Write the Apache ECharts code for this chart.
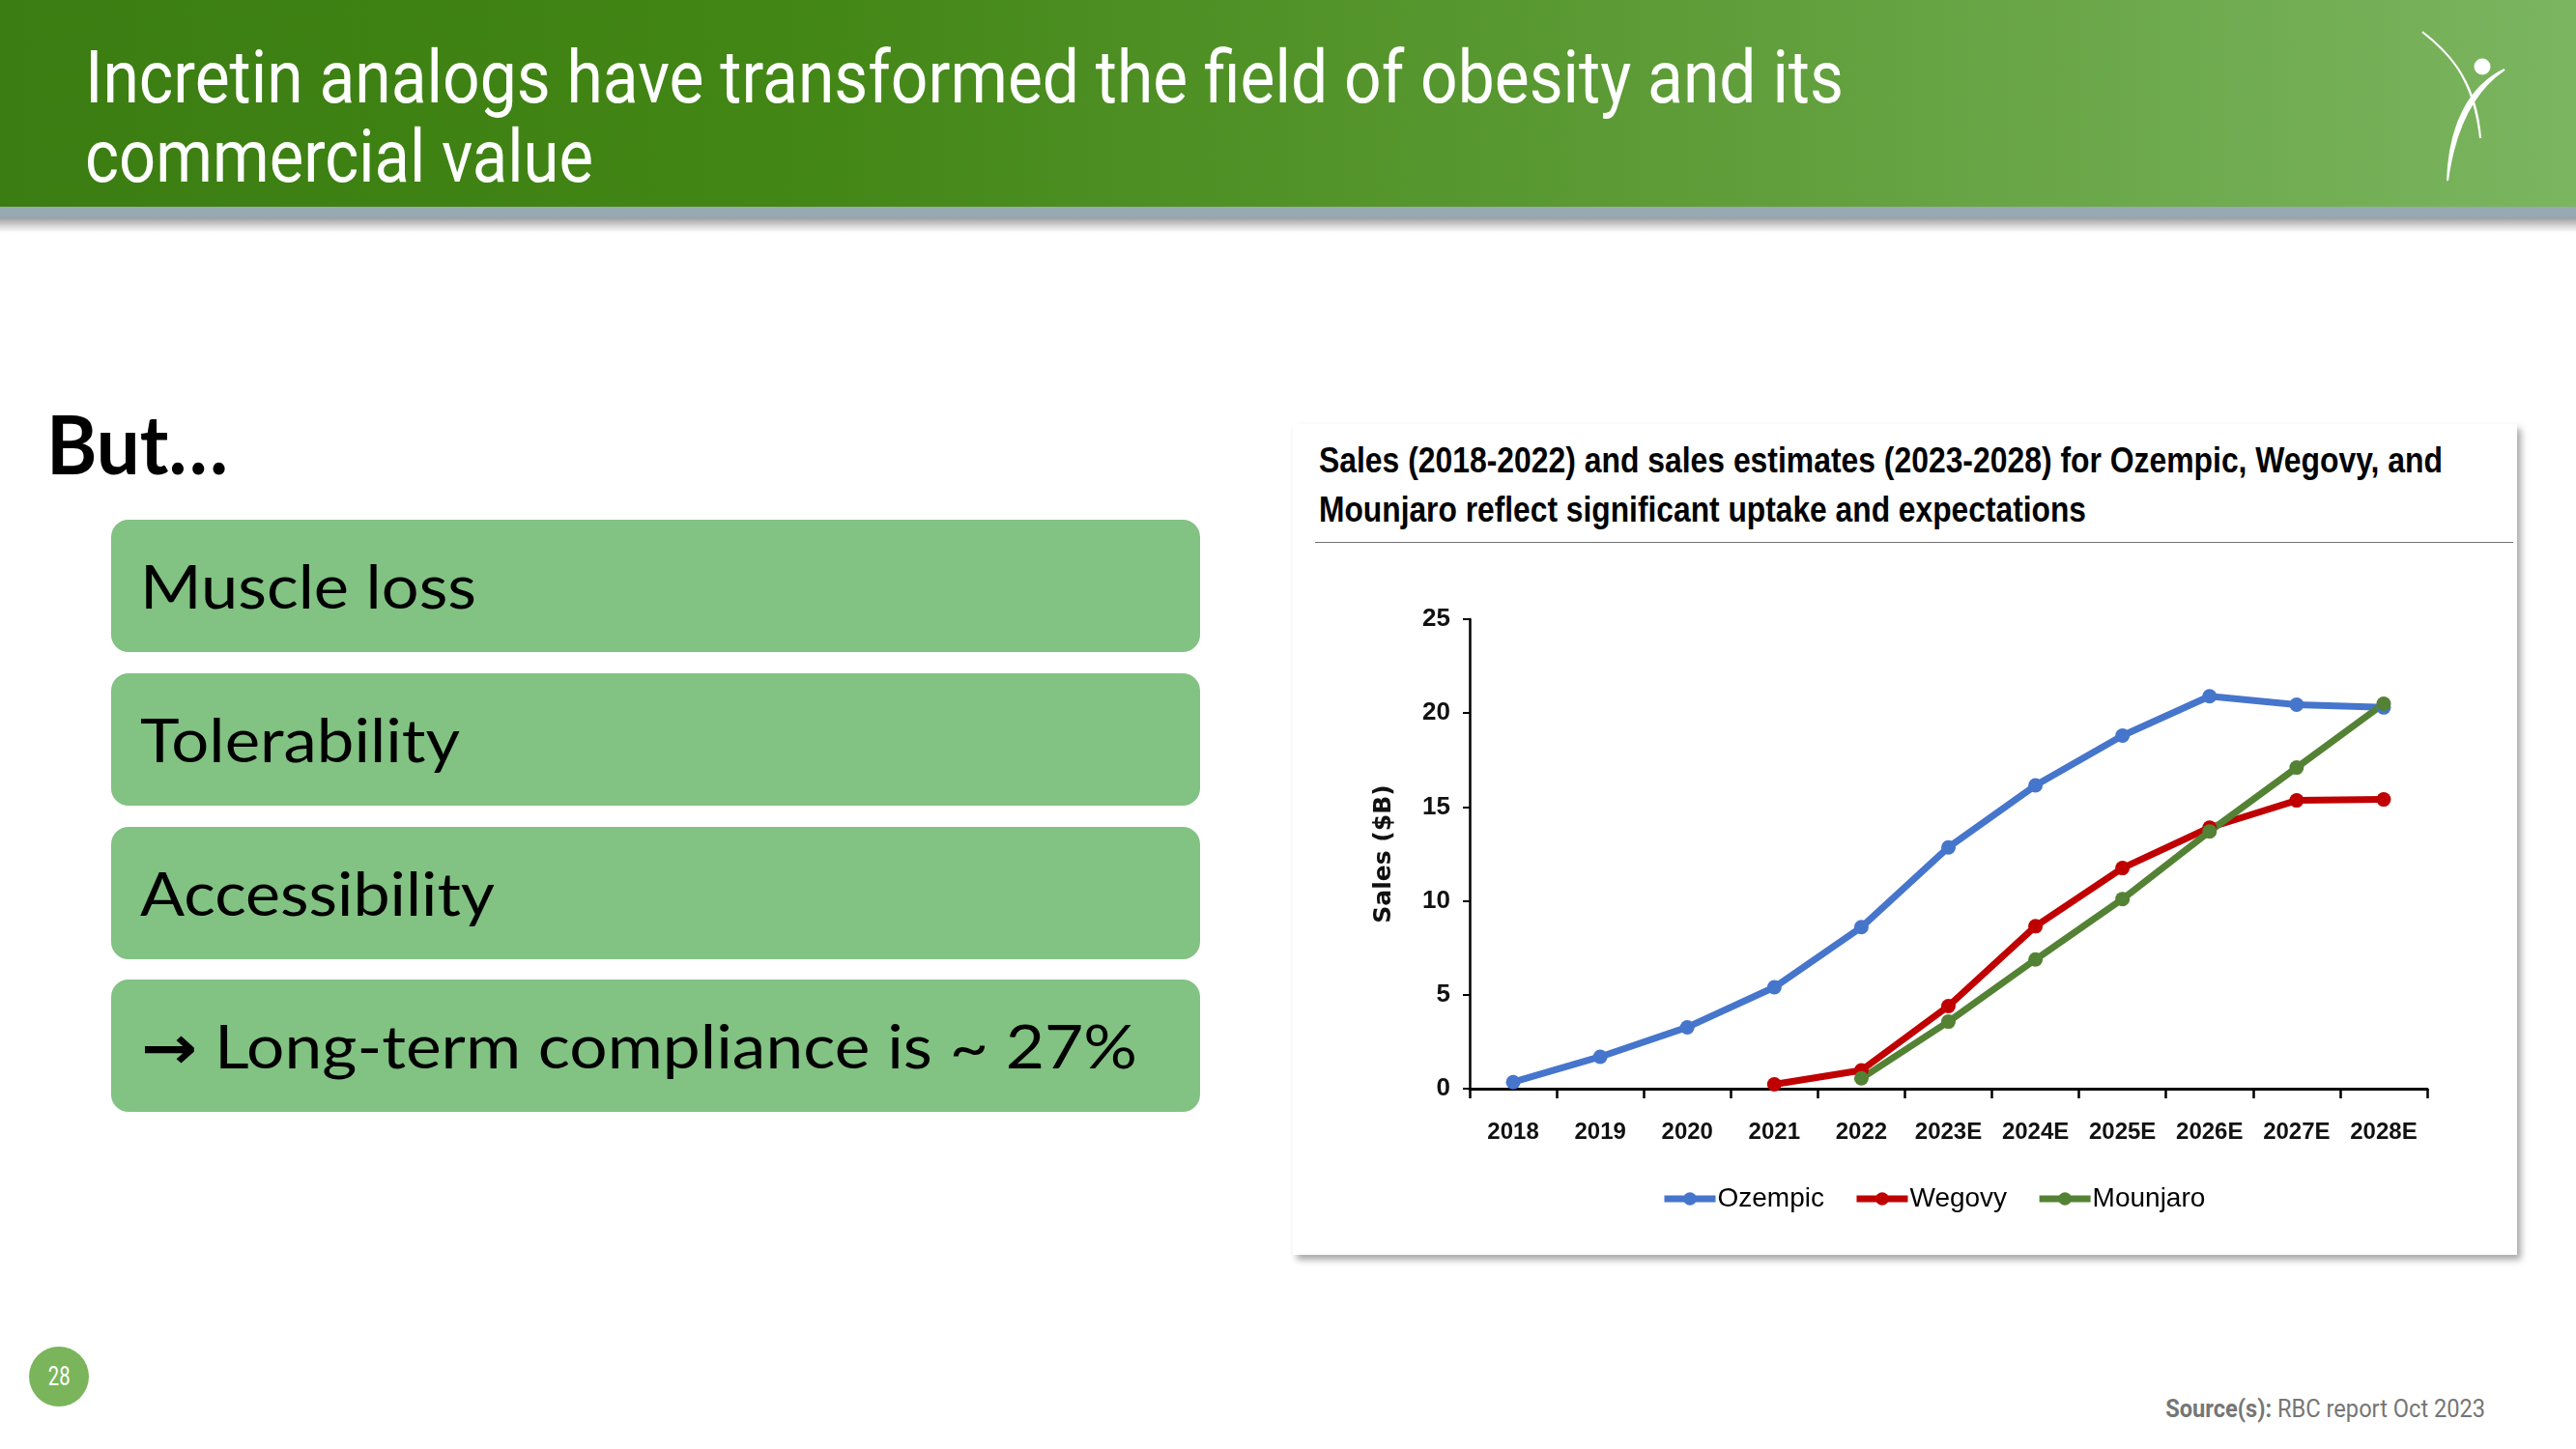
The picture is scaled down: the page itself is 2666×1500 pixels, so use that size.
<!DOCTYPE html>
<html>
<head>
<meta charset="utf-8">
<script src="https://cdn.jsdelivr.net/npm/echarts@6/dist/echarts.min.js"></script>
<style>
  html, body { margin:0; padding:0; width:2666px; height:1500px; background:#fff; overflow:hidden; }
  .abs { position:absolute; white-space:nowrap; }
  #header { position:absolute; left:0; top:0; width:2666px; height:214px;
    background: linear-gradient(90deg, #3b7d12 0%, #428615 30%, #5b9a34 62%, #7bb560 100%); }
  #band { position:absolute; left:0; top:214px; width:2666px; height:11px; background:#97a9b3; }
  #shadow { position:absolute; left:0; top:225px; width:2666px; height:16px;
    background: linear-gradient(180deg, #9c9c9c 0%, #d6d6d6 55%, #ffffff 100%); }
  .htitle { font-family: Roboto, sans-serif; font-weight:400; font-size:76px; color:#fff; line-height:1; transform-origin:left center; }
  .box { position:absolute; left:115px; width:1127px; height:137px; background:#82c283; border-radius:18px; }
  .btxt { font-family: Lato, "Open Sans", sans-serif; font-size:62px; color:#000; line-height:1; transform-origin:left center; }
  #panel { position:absolute; left:1338px; top:439px; width:1267px; height:860px; background:#fff;
    box-shadow: 4px 5px 7px rgba(0,0,0,0.35); }
  .ctitle { font-family: "Liberation Sans", Arial, sans-serif; font-weight:700; font-size:36px; color:#000; line-height:1; transform-origin:left center; }
  #sep { position:absolute; left:1361px; top:561px; width:1240px; height:0; border-top:1.5px solid #707070; }
  #chart { position:absolute; left:1338px; top:439px; width:1267px; height:860px; }
  #pnum { position:absolute; left:30px; top:1394px; width:62px; height:62px; border-radius:50%; background:#7ab55b;
    color:#fff; font-family: Roboto, sans-serif; font-size:27px; display:flex; align-items:center; justify-content:center; }
  #pnum span { display:inline-block; transform:scaleX(0.75); }
  .src { font-family: Roboto, sans-serif; font-size:25px; color:#767676; line-height:1; transform-origin:right center; }
</style>
</head>
<body>
<div id="header"></div>
<div id="band"></div>
<div id="shadow"></div>

<div class="abs htitle" data-w="1820" style="left:88px; top:42px;">Incretin analogs have transformed the field of obesity and its</div>
<div class="abs htitle" data-w="526" style="left:88px; top:124px;">commercial value</div>

<svg class="abs" style="left:2480px; top:20px;" width="186" height="200" viewBox="0 0 186 200">
  <path d="M27 13 C 55 35, 80 60, 87 123 C 83 70, 60 38, 27 13 Z" fill="#fff" stroke="#fff" stroke-width="2"/>
  <path d="M112 52 C 75 70, 55 110, 53 167 C 60 115, 78 75, 112 52 Z" fill="#fff" stroke="#fff" stroke-width="2"/>
  <circle cx="89" cy="49" r="8.5" fill="#fff"/>
</svg>

<div class="abs" id="but" data-w="188" style="left:48px; top:417px; font-family: Lato, 'Open Sans', sans-serif; font-weight:700; font-size:84px; line-height:1; color:#000; transform-origin:left center;">But…</div>

<div class="box" style="top:538px;"></div>
<div class="box" style="top:697px;"></div>
<div class="box" style="top:856px;"></div>
<div class="box" style="top:1014px;"></div>

<div class="abs btxt" data-w="348" style="left:145px; top:575px;">Muscle loss</div>
<div class="abs btxt" data-w="331" style="left:145px; top:734px;">Tolerability</div>
<div class="abs btxt" data-w="367" style="left:145px; top:893px;">Accessibility</div>
<div class="abs btxt" data-w="1031" style="left:146px; top:1051px;"><span style="font-family:'DejaVu Sans',sans-serif; font-weight:700;">→</span> Long-term compliance is ~ 27%</div>

<div id="panel"></div>
<div class="abs ctitle" data-w="1163" style="left:1365px; top:459px;">Sales (2018-2022) and sales estimates (2023-2028) for Ozempic, Wegovy, and</div>
<div class="abs ctitle" data-w="794" style="left:1365px; top:510px;">Mounjaro reflect significant uptake and expectations</div>
<div id="sep"></div>
<div id="chart"></div>

<div id="pnum"><span>28</span></div>
<div class="abs src" id="src" data-w="331" data-right="2572" style="top:1446px;"><span style="font-weight:700;">Source(s):</span> RBC report Oct 2023</div>

<script>
// ---- data ----
const categories = ['2018','2019','2020','2021','2022','2023E','2024E','2025E','2026E','2027E','2028E'];
const ozempic  = [0.35, 1.7, 3.27, 5.4, 8.6, 12.85, 16.15, 18.8, 20.9, 20.45, 20.3];
const wegovy   = [null, null, null, 0.23, 0.98, 4.4, 8.65, 11.75, 13.9, 15.35, 15.4];
const mounjaro = [null, null, null, null, 0.55, 3.57, 6.88, 10.1, 13.7, 17.1, 20.5];
const seriesNames = ['Ozempic', 'Wegovy', 'Mounjaro'];
const yTicks = { min: 0, max: 25, interval: 5 };

// ---- fit text widths ----
document.querySelectorAll('[data-w]').forEach(el => {
  const target = parseFloat(el.getAttribute('data-w'));
  const w = el.getBoundingClientRect().width;
  const s = target / w;
  if (el.hasAttribute('data-right')) {
    const right = parseFloat(el.getAttribute('data-right'));
    el.style.left = (right - w) + 'px';
  }
  el.style.transform = 'scaleX(' + s + ')';
});

// ---- chart ----
const chart = echarts.init(document.getElementById('chart'), null, { renderer: 'canvas' });
const narrow = '"Liberation Sans Narrow", "Liberation Sans", Arial, sans-serif';
const colors = ['#4675cc', '#c00000', '#548235'];
const mk = (name, data, color) => ({
  name, type: 'line', data, connectNulls: false,
  symbol: 'circle', symbolSize: 15, showAllSymbol: true,
  lineStyle: { color, width: 7 },
  itemStyle: { color },
  emphasis: { disabled: true },
  z: 3
});
chart.setOption({
  animation: false,
  grid: { left: 183, top: 202, width: 991, height: 486, containLabel: false },
  legend: {
    left: 376, top: 783,
    itemWidth: 53, itemHeight: 17, itemGap: 30,
    lineStyle: { width: 7 },
    textStyle: { fontFamily: narrow, fontSize: 28, color: '#000', padding: [0,0,0,-3] },
    data: seriesNames
  },
  xAxis: {
    type: 'category', data: categories, boundaryGap: true,
    axisLine: { lineStyle: { color: '#000', width: 3 } },
    axisTick: { show: true, length: 10, lineStyle: { color: '#000', width: 2.5 } },
    axisLabel: { interval: 0, fontFamily: narrow, fontWeight: 'bold', fontSize: 24, color: '#111', margin: 33 },
    splitLine: { show: false }
  },
  yAxis: {
    type: 'value', min: yTicks.min, max: yTicks.max, interval: yTicks.interval,
    name: 'Sales ($B)', nameLocation: 'middle', nameRotate: 90, nameGap: 76,
    nameTextStyle: { fontFamily: '"DejaVu Sans", Verdana, sans-serif', fontWeight: 'bold', fontSize: 25, color: '#111' },
    axisLine: { show: true, lineStyle: { color: '#000', width: 2.5 } },
    axisTick: { show: true, length: 7, lineStyle: { color: '#000', width: 2 } },
    axisLabel: { fontFamily: narrow, fontWeight: 'bold', fontSize: 26, color: '#111', margin: 20 },
    splitLine: { show: false }
  },
  series: [
    mk(seriesNames[0], ozempic, colors[0]),
    mk(seriesNames[1], wegovy, colors[1]),
    mk(seriesNames[2], mounjaro, colors[2])
  ]
});
</script>
</body>
</html>
